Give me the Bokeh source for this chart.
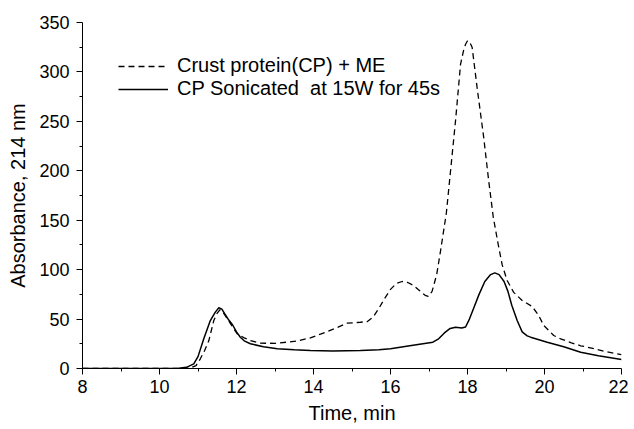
from bokeh.plotting import figure
from bokeh.models import Range1d, Legend, LegendItem, FixedTicker
from bokeh.embed import file_html
from bokeh.resources import INLINE

# --- data ---
t_me = [8, 9, 10, 10.5, 10.8, 10.95, 11.06, 11.17, 11.28, 11.41, 11.45, 11.5, 11.57, 11.63, 11.7,
        11.8, 11.9, 12.02, 12.2, 12.36, 12.62, 13.0, 13.3, 13.6, 13.92, 14.2, 14.53, 14.87, 15.22,
        15.4, 15.55, 15.7, 15.85, 16.0, 16.15, 16.3, 16.45, 16.6, 16.75, 16.9, 16.98, 17.08, 17.2,
        17.3, 17.45, 17.56, 17.69, 17.82, 17.9, 17.95, 18.0, 18.03, 18.07, 18.12, 18.25, 18.42,
        18.55, 18.67, 18.8, 18.9, 19.03, 19.2, 19.42, 19.68, 19.85, 19.98, 20.24, 20.42, 20.7,
        20.94, 21.3, 21.6, 22]
v_me = [0, 0, 0, 0, 0.5, 3, 9.8, 18, 28, 48.5, 52, 56, 59.4, 58, 54,
        48, 42, 35, 31, 28.3, 25.6, 25.5, 26.6, 28, 31, 35, 40, 45.8, 46.8,
        47.5, 52, 61, 71, 80, 86, 88, 87, 84, 79, 74, 73, 78, 95,
        119, 157, 200, 251, 308, 322, 328, 331.5, 331, 329, 325, 284, 234,
        190, 153, 125, 105, 89, 77, 68.8, 62.7, 53.6, 43.5, 33.4, 30, 26,
        23, 20, 17, 14]

t_son = [8, 9, 10, 10.5, 10.7, 10.89, 11.0, 11.15, 11.32, 11.45, 11.54, 11.62, 11.7, 11.8, 11.9,
         12.0, 12.1, 12.2, 12.36, 12.7, 13.06, 13.5, 13.92, 14.5, 15.22, 15.7, 16.0, 16.5, 17.1,
         17.25, 17.4, 17.55, 17.69, 17.85, 17.95, 18.05, 18.15, 18.3, 18.45, 18.6, 18.71, 18.82,
         18.95, 19.05, 19.15, 19.29, 19.42, 19.55, 19.64, 20.07, 20.5, 20.94, 21.4, 22]
v_son = [0, 0, 0, 0.3, 1.2, 4.7, 12, 30, 48.5, 57, 61.4, 60, 55, 49, 44,
         37, 31.6, 28, 25, 22, 20, 19, 18.2, 17.8, 18.2, 19, 20, 23, 26.6,
         30, 36, 40.5, 41.8, 41, 42, 50, 60, 75, 88, 95, 96.7, 95,
         88, 78, 64, 48.5, 37, 33, 31.7, 26.6, 22, 16.5, 13, 9]

x_ticks = [8, 10, 12, 14, 16, 18, 20, 22]
x_minor = [9, 11, 13, 15, 17, 19, 21]
y_ticks = [0, 50, 100, 150, 200, 250, 300, 350]
y_minor = [25, 75, 125, 175, 225, 275, 325]
label_me = "Crust protein(CP) + ME"
label_son = "CP Sonicated  at 15W for 45s"
x_title = "Time, min"
y_title = "Absorbance, 214 nm"

FONT = "Liberation Sans"

p = figure(width=628, height=429, output_backend="svg", toolbar_location=None,
           x_range=Range1d(8, 22), y_range=Range1d(0, 350),
           min_border_left=82, min_border_right=7, min_border_top=22, min_border_bottom=61)
p.outline_line_color = None
p.xgrid.visible = False
p.ygrid.visible = False
p.background_fill_color = "white"

r1 = p.line(t_me, v_me, line_color="black", line_width=1.3, line_dash="6 4")
r2 = p.line(t_son, v_son, line_color="black", line_width=1.5)

for ax, ticks, minor in ((p.xaxis[0], x_ticks, x_minor), (p.yaxis[0], y_ticks, y_minor)):
    ax.ticker = FixedTicker(ticks=ticks, minor_ticks=minor)
    ax.major_tick_out = 6
    ax.major_tick_in = 0
    ax.minor_tick_out = 3
    ax.minor_tick_in = 0
    ax.axis_line_color = "black"
    ax.major_tick_line_color = "black"
    ax.minor_tick_line_color = "black"
    ax.major_label_text_font = FONT
    ax.major_label_text_font_size = "18px"
    ax.major_label_text_color = "black"
    ax.axis_label_text_font = FONT
    ax.axis_label_text_font_size = "20px"
    ax.axis_label_text_font_style = "normal"
    ax.axis_label_text_color = "black"

p.xaxis.axis_label = x_title
p.yaxis.axis_label = y_title
p.xaxis.major_label_standoff = 5
p.xaxis.axis_label_standoff = 6
p.yaxis.major_label_standoff = 7
p.yaxis.axis_label_standoff = 7

legend = Legend(items=[LegendItem(label=label_me, renderers=[r1]),
                       LegendItem(label=label_son, renderers=[r2])],
                location=(36, 268), padding=0, margin=0, spacing=-1,
                glyph_width=50, glyph_height=20, label_standoff=9,
                label_text_font=FONT, label_text_font_size="20px",
                label_text_color="black", border_line_color=None,
                background_fill_alpha=0)
p.add_layout(legend)

open("out.html", "w").write(file_html(p, INLINE))
